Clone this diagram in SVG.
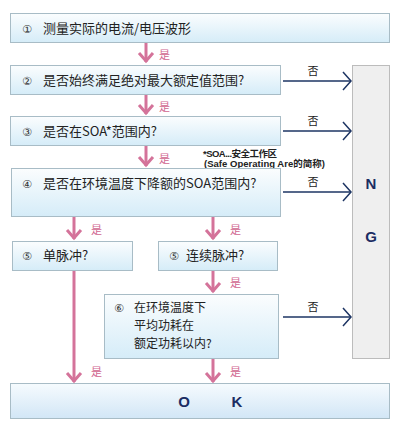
<svg xmlns="http://www.w3.org/2000/svg" width="402" height="436" viewBox="0 0 402 436">
<defs>
<linearGradient id="bg" x1="0" y1="0" x2="0" y2="1">
<stop offset="0" stop-color="#fbfdfe"/>
<stop offset="1" stop-color="#d5ecf8"/>
</linearGradient>
<linearGradient id="bgok" x1="0" y1="0" x2="0" y2="1">
<stop offset="0" stop-color="#f6fbfe"/>
<stop offset="1" stop-color="#d2e6f6"/>
</linearGradient>
<marker id="ng" viewBox="0 0 10 20" refX="9" refY="10" markerWidth="10" markerHeight="20" markerUnits="userSpaceOnUse" orient="auto">
<path d="M1,1 L9,10 L1,19" fill="none" stroke="#1d3463" stroke-width="1.5"/>
</marker>
</defs>
<style>
.box{fill:url(#bg);stroke:#a8bcc6;stroke-width:1}
.t{font-family:"Noto Sans CJK SC","Liberation Sans",sans-serif;font-size:13px;fill:#222}
.t6{font-family:"Noto Sans CJK SC","Liberation Sans",sans-serif;font-size:12px;fill:#222}
.n{font-family:"DejaVu Sans","Noto Sans CJK SC",sans-serif;font-size:11px;fill:#333}
.y{font-family:"Noto Sans CJK SC",sans-serif;font-size:11px;fill:#d0668f}
.no{font-family:"Noto Sans CJK SC",sans-serif;font-size:11px;fill:#222}
.pk{stroke:#d4739a;stroke-width:3;fill:none}
.pkh{stroke:#d4739a;stroke-width:3;fill:none;stroke-linejoin:miter}
.nv{stroke:#1d3463;stroke-width:1.5;fill:none}
.big{font-family:"Liberation Sans",sans-serif;font-size:15px;font-weight:bold;fill:#1b2d63}
.note{font-family:"Liberation Sans","Noto Sans CJK SC",sans-serif;font-size:9.5px;font-weight:bold;fill:#222}
</style>
<g id="ngbox"><rect x="352.5" y="65.5" width="37" height="293" fill="#efefef" stroke="#bcbcbc"/>
<text class="big" x="371" y="189" text-anchor="middle">N</text>
<text class="big" x="371" y="242" text-anchor="middle">G</text></g>
<g id="n1"><rect class="box" x="10.5" y="13.5" width="379" height="29"/>
<text class="n" x="22" y="33">①</text><text class="t" x="43" y="33">测量实际的电流/电压波形</text></g>
<g id="n2"><rect class="box" x="10.5" y="65.5" width="270" height="29"/>
<text class="n" x="22" y="85">②</text><text class="t" x="43" y="85">是否始终满足绝对最大额定值范围?</text></g>
<g id="n3"><rect class="box" x="10.5" y="116.5" width="270" height="29"/>
<text class="n" x="22" y="136">③</text><text class="t" x="43" y="136">是否在SOA*范围内?</text></g>
<g id="note"><text class="note" x="203" y="157" textLength="74">*SOA...安全工作区</text><text class="note" x="204" y="167" textLength="121">(Safe Operating Are的简称)</text></g>
<g id="n4"><rect class="box" x="11.5" y="168.5" width="269" height="48"/>
<text class="n" x="22" y="188">④</text><text class="t" x="43" y="188">是否在环境温度下降额的SOA范围内?</text></g>
<g id="n5a"><rect class="box" x="12.5" y="241.5" width="120" height="29"/>
<text class="n" x="22" y="260">⑤</text><text class="t" x="43" y="260">单脉冲?</text></g>
<g id="n5b"><rect class="box" x="158.5" y="241.5" width="119" height="29"/>
<text class="n" x="169" y="260">⑤</text><text class="t" x="186" y="260">连续脉冲?</text></g>
<g id="n6"><rect class="box" x="104.5" y="294.5" width="174" height="64"/>
<text class="n" x="114" y="312">⑥</text><text class="t6" x="134" y="312">在环境温度下</text><text class="t6" x="134" y="330">平均功耗在</text><text class="t6" x="134" y="348">额定功耗以内?</text></g>
<g id="ok"><rect x="10.5" y="383.5" width="379" height="35" fill="url(#bgok)" stroke="#a8bcc6"/>
<text class="big" x="184" y="407" text-anchor="middle">O</text><text class="big" x="237" y="407" text-anchor="middle">K</text></g>
<g id="connectors">
<path class="pk" d="M146,43 V62"/><path class="pkh" d="M139,53 L146,61 L153,53"/><text class="y" x="159" y="59">是</text>
<path class="pk" d="M146,95 V114"/><path class="pkh" d="M139,105 L146,113 L153,105"/><text class="y" x="159" y="111">是</text>
<path class="pk" d="M146,146 V166"/><path class="pkh" d="M139,157 L146,165 L153,157"/><text class="y" x="159" y="163">是</text>
<path class="pk" d="M74,217 V239"/><path class="pkh" d="M67,230 L74,238 L81,230"/><text class="y" x="91" y="234">是</text>
<path class="pk" d="M213,217 V239"/><path class="pkh" d="M206,230 L213,238 L220,230"/><text class="y" x="230" y="234">是</text>
<path class="pk" d="M213,271 V292"/><path class="pkh" d="M206,283 L213,291 L220,283"/><text class="y" x="230" y="287">是</text>
<path class="pk" d="M74,271 V382"/><path class="pkh" d="M67,373 L74,381 L81,373"/><text class="y" x="91" y="376">是</text>
<path class="pk" d="M213,359 V382"/><path class="pkh" d="M206,373 L213,381 L220,373"/><text class="y" x="230" y="376">是</text>
<path class="nv" d="M283,81 H351" marker-end="url(#ng)"/><text class="no" x="313" y="75" text-anchor="middle">否</text>
<path class="nv" d="M283,131 H351" marker-end="url(#ng)"/><text class="no" x="313" y="125" text-anchor="middle">否</text>
<path class="nv" d="M283,192 H351" marker-end="url(#ng)"/><text class="no" x="313" y="186" text-anchor="middle">否</text>
<path class="nv" d="M283,317 H351" marker-end="url(#ng)"/><text class="no" x="313" y="311" text-anchor="middle">否</text>
</g>
</svg>
